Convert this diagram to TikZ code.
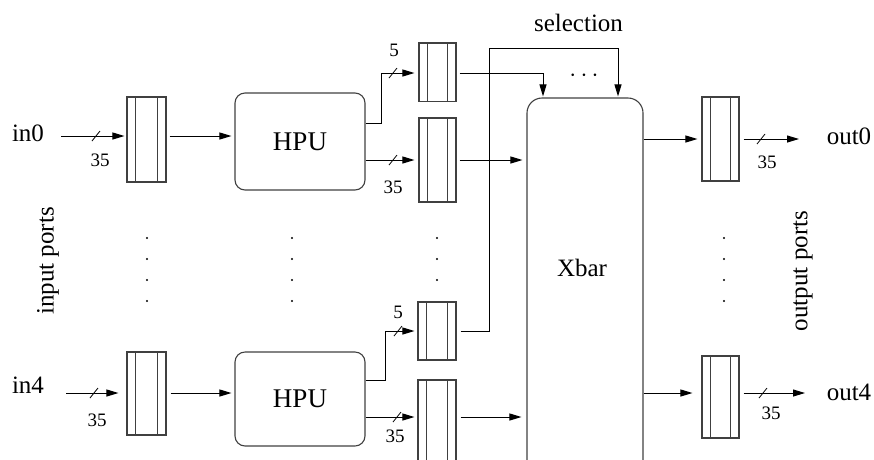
\documentclass[tikz,border=0pt]{standalone}
\usepackage{fontspec}
\setmainfont{Liberation Serif}
\usetikzlibrary{arrows.meta,calc}
\begin{document}
\begin{tikzpicture}[x=1pt,y=-1pt,
  box/.style={draw=black!75, line width=1.1pt},
  buf/.style={box, rectangle, inner sep=0pt,
    path picture={
      \draw[black!75, line width=1.1pt]
        ([xshift=8.3pt]path picture bounding box.south west) -- ([xshift=8.3pt]path picture bounding box.north west)
        ([xshift=-8.3pt]path picture bounding box.south east) -- ([xshift=-8.3pt]path picture bounding box.north east);
    }},
  unit/.style={box, rectangle, rounded corners=10pt, inner sep=0pt},
  lbl/.style={inner sep=0pt, font=\fontsize{25}{30}\selectfont},
  num/.style={inner sep=0pt, font=\fontsize{19}{22}\selectfont},
  conn/.style={line width=1pt, -{Triangle[length=12pt,width=7pt]}},
  slashmark/.style={line width=0.8pt}
]
\path[use as bounding box, clip] (0,0) rectangle (874,459);

% ---------- nodes ----------
\node[lbl] (in0) at (28,133) {in0};
\node[lbl] (in4) at (28,385) {in4};

\node[buf, minimum width=39pt, minimum height=85pt] (ib0) at (146.5,139.5) {};
\node[buf, minimum width=39pt, minimum height=83pt] (ib4) at (146.5,393.5) {};

\node[unit, minimum width=130pt, minimum height=97pt] (hpu0) at (300,141.5) {};
\node[unit, minimum width=130pt, minimum height=94pt] (hpu4) at (300,399) {};
\node[inner sep=0pt, font=\fontsize{27}{32}\selectfont] (hpu0t) at (hpu0.center) {HPU};
\node[inner sep=0pt, font=\fontsize{27}{32}\selectfont] (hpu4t) at (hpu4.center) {HPU};

\node[buf, minimum width=37pt, minimum height=58.5pt] (sb0) at (437.5,72.25) {};
\node[buf, minimum width=37pt, minimum height=84pt] (bb0) at (437.5,160) {};
\node[buf, minimum width=38pt, minimum height=58pt] (sb4) at (437,331) {};
\node[buf, minimum width=38pt, minimum height=84pt] (bb4) at (437,422) {};

\node[box, rectangle, rounded corners=15pt, inner sep=0pt, minimum width=116pt, minimum height=392pt] (xbar) at (585,294) {};
\node[lbl] (xbart) at (582,268) {Xbar};

\node[buf, minimum width=37pt, minimum height=84pt] (ob0) at (720.5,139) {};
\node[buf, minimum width=37pt, minimum height=82pt] (ob4) at (720.5,397) {};

\node[lbl] (out0) at (849,136) {out0};
\node[lbl] (out4) at (849,392) {out4};

\node[lbl] (sel) at (578.5,23) {selection};
\node[inner sep=0pt, font=\fontsize{25}{30}\selectfont] (more) at (584,76) {$\cdots$};

\node[lbl, rotate=90] (inports) at (48,261) {input ports};
\node[lbl, rotate=90] (outports) at (803,271) {output ports};

% ---------- helper coordinates ----------
\coordinate (a0) at (61,136);
\coordinate (a4) at (66,393);
\coordinate (k0) at (381,73);
\coordinate (k4) at (385,331);
\coordinate (selx) at (489,48);
\coordinate (selr) at (618,48);
\coordinate (tx) at (543,73);

% ---------- row 0 ----------
\draw[conn, shorten >=2pt] (a0) -- (ib0.west |- a0);
\draw[slashmark] (96,136) ++(-4,5) -- ++(8,-10);
\node[num] (n35a) at (100,160) {35};
\draw[conn, shorten <=3pt, shorten >=3pt] (ib0.east |- a0) -- (hpu0.west |- a0);

\draw[conn, shorten >=4pt] (hpu0.east |- 0,123) -| (k0) -- (sb0.west |- k0);
\draw[slashmark] (393,73) ++(-4,5) -- ++(8,-10);
\node[num] (n5a) at (394,50) {5};
\draw[conn, shorten >=4pt] (hpu0.east |- 0,160) -- (bb0.west |- 0,160);
\draw[slashmark] (393,160) ++(-4,5) -- ++(8,-10);
\node[num] (n35b) at (393,187) {35};

\draw[conn, shorten <=3pt, shorten >=1pt] (sb0.east |- tx) -| (tx |- xbar.north);
\draw[conn, shorten <=3pt, shorten >=4pt] (bb0.east |- 0,160) -- (xbar.west |- 0,160);

\draw[conn, shorten >=4pt] (xbar.east |- 0,139) -- (ob0.west |- 0,139);
\draw[conn, shorten <=4pt, shorten >=2pt] (ob0.east |- 0,139) -- (801,139);
\draw[slashmark] (761,139) ++(-4,5) -- ++(8,-10);
\node[num] (n35c) at (767,162) {35};

% ---------- row 4 ----------
\draw[conn, shorten >=8pt] (a4) -- (ib4.west |- a4);
\draw[slashmark] (94,393) ++(-4,5) -- ++(8,-10);
\node[num] (n35d) at (97,420) {35};
\draw[conn, shorten <=4pt, shorten >=3pt] (ib4.east |- a4) -- (hpu4.west |- a4);

\draw[conn, shorten >=3pt] (hpu4.east |- 0,380) -| (k4) -- (sb4.west |- k4);
\draw[slashmark] (398,331) ++(-4,5) -- ++(8,-10);
\node[num] (n5b) at (398,312) {5};
\draw[conn, shorten >=3pt] (hpu4.east |- 0,417) -- (bb4.west |- 0,417);
\draw[slashmark] (397,417) ++(-4,5) -- ++(8,-10);
\node[num] (n35e) at (395,436) {35};

\draw[conn, shorten <=4pt, shorten >=5pt] (bb4.east |- 0,417) -- (xbar.west |- 0,417);

\draw[conn, shorten >=9pt] (xbar.east |- 0,393) -- (ob4.west |- 0,393);
\draw[conn, shorten <=4pt] (ob4.east |- 0,393) -- (805,393);
\draw[slashmark] (763,393) ++(-4,5) -- ++(8,-10);
\node[num] (n35f) at (771,413) {35};

% ---------- selection line ----------
\draw[conn, shorten <=4pt, shorten >=1pt] (sb4.east) -| (selx) -- (selr) -- (selr |- xbar.north);

% ---------- dots ----------
\foreach \x in {147,292,724}
  \foreach \y in {238,259,280,301}
    \fill (\x,\y) circle (1.1pt);
\foreach \y in {238,259,280}
  \fill (437,\y) circle (1.1pt);
\end{tikzpicture}
\end{document}
